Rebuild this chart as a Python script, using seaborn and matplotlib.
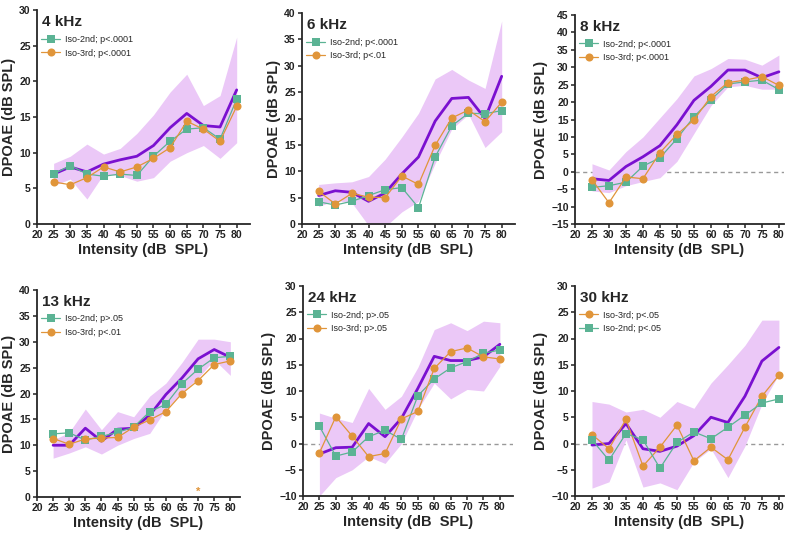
import seaborn as sns
import matplotlib.pyplot as plt
import numpy as np

# intensities (dB SPL)
levels = [25, 30, 35, 40, 45, 50, 55, 60, 65, 70, 75, 80]

# 4 kHz
ctrl_4k = [7.0, 8.0, 7.3, 8.4, 9.0, 9.5, 11.0, 13.5, 15.5, 13.8, 13.6, 18.8]
hi_4k = [8.5, 9.5, 11.2, 9.8, 10.6, 12.7, 15.3, 18.5, 21.0, 16.6, 18.0, 26.2]
lo_4k = [5.4, 6.3, 3.5, 7.0, 6.8, 6.0, 6.5, 8.8, 10.0, 11.0, 9.2, 11.4]
iso2_4k = [7.0, 8.2, 7.0, 6.7, 7.0, 6.8, 9.5, 11.6, 13.3, 13.5, 11.9, 17.5]
iso3_4k = [5.9, 5.5, 6.5, 8.0, 7.3, 8.0, 9.2, 10.7, 14.4, 13.3, 11.6, 16.5]

# 6 kHz
ctrl_6k = [5.4, 6.3, 6.0, 4.3, 5.9, 9.5, 12.7, 19.5, 23.8, 24.0, 20.0, 28.0]
hi_6k = [7.5, 7.8, 8.0, 9.0, 12.3, 16.5, 21.0, 27.5, 29.3, 27.3, 25.7, 38.5]
lo_6k = [3.3, 4.5, 4.0, -0.3, -0.5, 2.3, 4.3, 11.5, 18.0, 20.8, 14.5, 17.5]
iso2_6k = [4.2, 3.6, 4.3, 5.4, 6.5, 6.9, 3.1, 12.7, 18.6, 21.0, 20.9, 21.5]
iso3_6k = [6.2, 3.8, 5.8, 5.1, 5.0, 9.1, 7.5, 14.9, 20.1, 21.6, 19.4, 23.1]

# 8 kHz
ctrl_8k = [-2.0, -2.5, 1.5, 4.3, 7.5, 13.5, 20.5, 24.5, 29.2, 29.2, 27.0, 28.7]
hi_8k = [2.3, 0.5, 5.8, 10.0, 15.5, 21.0, 27.5, 29.6, 32.5, 32.3, 30.6, 33.5]
lo_8k = [-5.5, -6.0, -4.0, -2.8, -1.7, 3.0, 11.0, 19.0, 24.4, 24.8, 23.7, 23.7]
iso2_8k = [-4.5, -4.0, -3.0, 1.6, 4.0, 9.5, 15.8, 20.7, 25.2, 25.8, 26.3, 23.6]
iso3_8k = [-2.3, -8.9, -1.5, -2.0, 5.5, 10.7, 14.9, 21.6, 25.6, 26.3, 27.3, 24.8]

# 13 kHz
ctrl_13k = [10.0, 10.0, 13.3, 10.8, 13.1, 13.3, 15.8, 19.8, 23.0, 26.7, 28.5, 27.0]
hi_13k = [11.0, 12.5, 17.0, 13.0, 16.5, 15.5, 19.5, 22.0, 26.0, 30.5, 30.5, 30.0]
lo_13k = [7.5, 8.5, 9.7, 8.3, 10.0, 11.3, 12.3, 17.0, 20.2, 23.0, 26.5, 23.5]
iso2_13k = [12.2, 12.4, 11.0, 11.7, 12.5, 13.5, 16.5, 17.9, 21.9, 24.7, 26.9, 27.2]
iso3_13k = [11.3, 10.2, 11.2, 11.4, 11.5, 13.5, 14.9, 16.5, 20.0, 22.5, 25.6, 26.3]

# 24 kHz
ctrl_24k = [-2.0, -0.8, -0.7, 3.8, 1.3, 4.8, 10.5, 16.6, 15.8, 15.8, 16.5, 18.9]
hi_24k = [5.8, 4.8, 4.0, 10.5, 6.5, 9.0, 14.5, 21.7, 23.0, 21.5, 23.3, 23.0]
lo_24k = [-10.0, -6.5, -5.0, -2.5, -3.8, 0.0, 6.5, 11.5, 8.5, 10.3, 10.0, 14.7]
iso2_24k = [3.3, -2.4, -1.6, 1.3, 2.5, 0.8, 9.1, 12.3, 14.4, 15.6, 17.2, 17.8]
iso3_24k = [-1.8, 5.1, 1.4, -2.5, -1.9, 4.7, 6.1, 14.3, 17.5, 18.2, 16.5, 16.1]

# 30 kHz
ctrl_30k = [-0.3, 0.0, 3.8, -1.0, -1.5, -0.5, 1.5, 5.0, 4.0, 9.0, 15.7, 18.3]
hi_30k = [8.0, 7.5, 6.0, 6.5, 5.0, 8.0, 6.7, 11.5, 15.0, 18.7, 23.5, 23.5]
lo_30k = [-8.5, -7.3, 0.7, -8.3, -7.5, -8.8, -3.5, -1.0, -6.5, -0.5, 7.5, 13.2]
iso2_30k = [0.7, -3.2, 1.9, 0.7, -4.7, 0.2, 2.2, 0.9, 3.1, 5.4, 7.7, 8.5]
iso3_30k = [1.7, -1.0, 4.6, -4.3, -0.7, 3.5, -3.3, -0.7, -3.1, 3.1, 9.0, 13.0]

titles = ["4 kHz", "6 kHz", "8 kHz", "13 kHz", "24 kHz", "30 kHz"]
p_iso2 = ["p<.0001", "p<.0001", "p<.0001", "p>.05", "p>.05", "p<.05"]
p_iso3 = ["p<.0001", "p<.01", "p<.0001", "p<.01", "p>.05", "p<.05"]

BAND = "#ebc8f7"
PURPLE = "#7a10d0"
GREEN = "#5bb394"
ORANGE = "#e0953a"

sns.set_style("ticks")
plt.rcParams["font.family"] = ["Liberation Sans", "DejaVu Sans"]
plt.rcParams["axes.linewidth"] = 1.3

W, H = 789, 535
fig = plt.figure(figsize=(W / 100, H / 100), dpi=100)

# pixel boxes: left, top, right, bottom ; xmax ; ylim
boxes = [
    (37, 10, 250, 224, 84, (0, 30)),
    (302, 13, 515, 224, 84, (0, 40)),
    (575, 15, 784, 224, 81.5, (-15, 45)),
    (37, 290, 240, 497, 83, (0, 40)),
    (303, 286, 513, 496, 84, (-10, 30)),
    (575, 286, 784, 496, 81.5, (-10, 30)),
]

panels = [
    (ctrl_4k, hi_4k, lo_4k, iso2_4k, iso3_4k),
    (ctrl_6k, hi_6k, lo_6k, iso2_6k, iso3_6k),
    (ctrl_8k, hi_8k, lo_8k, iso2_8k, iso3_8k),
    (ctrl_13k, hi_13k, lo_13k, iso2_13k, iso3_13k),
    (ctrl_24k, hi_24k, lo_24k, iso2_24k, iso3_24k),
    (ctrl_30k, hi_30k, lo_30k, iso2_30k, iso3_30k),
]

for i, (box, data) in enumerate(zip(boxes, panels)):
    l, t, r, b, xmax, ylim = box
    ax = fig.add_axes([l / W, 1 - b / H, (r - l) / W, (b - t) / H])
    ctrl, hi, lo, iso2, iso3 = data

    if ylim[0] < 0:
        ax.axhline(0, color="#999999", lw=1, ls=(0, (3, 2.5)), zorder=0)
    ax.fill_between(levels, lo, hi, color=BAND, lw=0, zorder=1)
    sns.lineplot(x=levels, y=ctrl, ax=ax, color=PURPLE, lw=2, zorder=3)

    kw2 = dict(x=levels, y=iso2, ax=ax, color=GREEN, lw=0.9, marker="s",
               markersize=5.2, markeredgewidth=0, zorder=4,
               label="Iso-2nd; " + p_iso2[i])
    kw3 = dict(x=levels, y=iso3, ax=ax, color=ORANGE, lw=0.9, marker="o",
               markersize=5.8, markeredgewidth=0, zorder=4,
               label="Iso-3rd; " + p_iso3[i])
    if i == 5:
        sns.lineplot(**kw3)
        sns.lineplot(**kw2)
    else:
        sns.lineplot(**kw2)
        sns.lineplot(**kw3)

    if i == 3:
        ax.text(70, 1.0, "*", color=ORANGE, ha="center", va="center",
                fontsize=8, fontweight="bold")

    ax.set_xlim(20, xmax)
    ax.set_ylim(*ylim)
    ax.set_xticks(range(20, 85, 5))
    ax.set_yticks(np.arange(ylim[0], ylim[1] + 1, 5))
    ax.tick_params(labelsize=7.5, width=1.1, length=3, pad=1.5,
                   colors="#222222")
    for lab in ax.get_xticklabels() + ax.get_yticklabels():
        lab.set_fontweight("bold")
    ax.set_xlabel("Intensity (dB  SPL)", fontsize=10.5, fontweight="bold",
                  labelpad=2)
    ax.set_ylabel("DPOAE (dB SPL)", fontsize=10.5, fontweight="bold",
                  labelpad=2)
    sns.despine(ax=ax)

    ax.text(0.025, 0.975, titles[i], transform=ax.transAxes, fontsize=11,
            fontweight="bold", va="top", ha="left")
    ax.legend(loc="upper left", bbox_to_anchor=(0.0, 0.9), frameon=False,
              fontsize=6.5, handlelength=2.2, handletextpad=0.5,
              labelspacing=0.5, borderaxespad=0.2, borderpad=0.2)

fig.savefig("out.png", dpi=100)
